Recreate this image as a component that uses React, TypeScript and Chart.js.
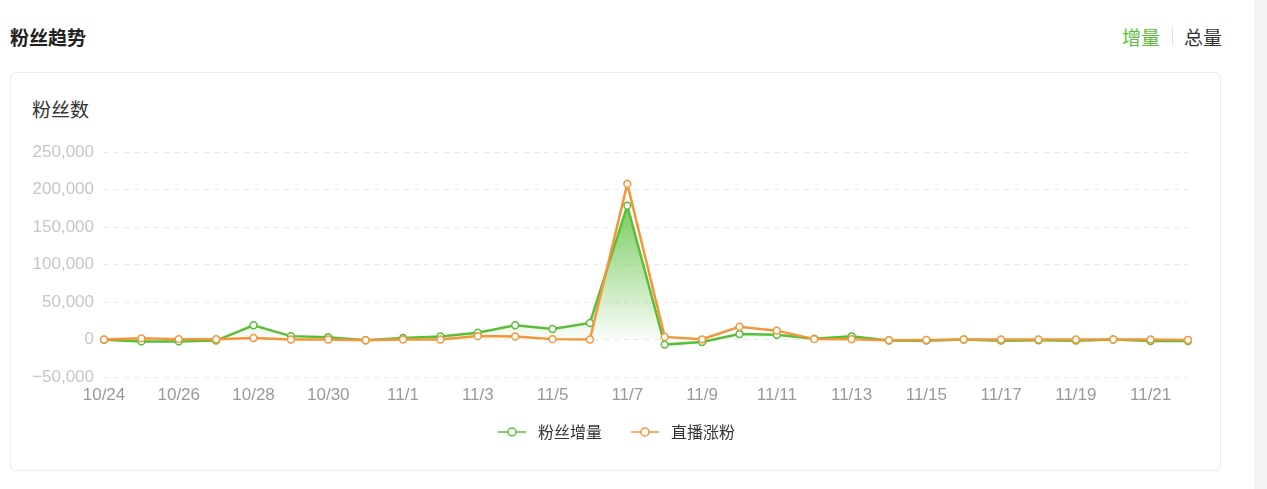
import React, { useEffect, useRef } from "react";
import { Chart, registerables } from "chart.js";

Chart.register(...registerables);

const categories = [
  "10/24", "10/25", "10/26", "10/27", "10/28", "10/29", "10/30", "10/31",
  "11/1", "11/2", "11/3", "11/4", "11/5", "11/6", "11/7", "11/8", "11/9", "11/10",
  "11/11", "11/12", "11/13", "11/14", "11/15", "11/16", "11/17", "11/18", "11/19",
  "11/20", "11/21", "11/22",
];

const fanGrowth = [
  -500, -2500, -2500, -1500, 19000, 4500, 3000, -1000,
  2000, 4000, 9000, 19000, 14000, 22000, 178500, -6800, -3300, 7300,
  6200, 1000, 4300, -1300, -1500, 0, -1500, -1000, -1500,
  0, -2000, -2000,
];

const liveGrowth = [
  0, 1500, 500, 500, 2000, 0, 0, -1000,
  0, 0, 4500, 4000, 500, 0, 207500, 3500, 300, 17000,
  11800, 500, 400, -1000, -500, 0, 0, 0, 0,
  0, 0, -500,
];

const seriesNames = ["粉丝增量", "直播涨粉"];
const yMin = -50000;
const yMax = 250000;
const yStep = 50000;

const GREEN = "#58bf36";
const ORANGE = "#f3963b";
const TICK_FONT = "'Liberation Sans', 'Noto Sans CJK SC', sans-serif";
const CJK_FONT = "'Noto Sans CJK SC', 'Liberation Sans', sans-serif";

function legendIcon(color: string) {
  const c = document.createElement("canvas");
  c.width = 37;
  c.height = 12;
  const ctx = c.getContext("2d")!;
  ctx.strokeStyle = color;
  ctx.lineWidth = 1.5;
  ctx.beginPath();
  ctx.moveTo(5, 6);
  ctx.lineTo(33, 6);
  ctx.stroke();
  ctx.beginPath();
  ctx.arc(19, 6, 4, 0, Math.PI * 2);
  ctx.fillStyle = "#fff";
  ctx.fill();
  ctx.stroke();
  return c;
}

function formatTick(v: number) {
  const s = Math.abs(v).toLocaleString("en-US");
  return v < 0 ? "\u2212" + s : s;
}

const legendShift = {
  id: "legendShift",
  afterLayout(chart: any) {
    const l = chart.legend;
    if (l) {
      l.left += 10;
      l.right += 10;
    }
  },
};

function FanChart() {
  const ref = useRef<HTMLCanvasElement | null>(null);
  useEffect(() => {
    if (!ref.current) return;
    const icons = [legendIcon(GREEN), legendIcon(ORANGE)];
    const peak = Math.max(...fanGrowth);
    const chart = new Chart(ref.current, {
      type: "line",
      data: {
        labels: categories,
        datasets: [
          {
            label: seriesNames[0],
            data: fanGrowth,
            borderColor: GREEN,
            borderWidth: 2.5,
            pointRadius: 3.4,
            pointBorderWidth: 1.5,
            pointBackgroundColor: "#fff",
            pointBorderColor: GREEN,
            tension: 0,
            fill: "origin",
            order: 2,
            backgroundColor: (ctx: any) => {
              const chart = ctx.chart;
              if (!chart.chartArea || !chart.scales.y) return "rgba(88,191,54,0.2)";
              const y = chart.scales.y;
              const top = y.getPixelForValue(peak);
              const zero = y.getPixelForValue(0);
              const g = chart.ctx.createLinearGradient(0, top, 0, zero);
              g.addColorStop(0, "rgba(88,191,54,0.8)");
              g.addColorStop(1, "rgba(88,191,54,0.03)");
              return g;
            },
          },
          {
            label: seriesNames[1],
            data: liveGrowth,
            borderColor: ORANGE,
            borderWidth: 2.5,
            pointRadius: 3.4,
            pointBorderWidth: 1.5,
            pointBackgroundColor: "#fff",
            pointBorderColor: ORANGE,
            tension: 0,
            fill: false,
            order: 1,
          },
        ],
      },
      options: {
        responsive: false,
        animation: false,
        layout: { padding: { top: 22, right: 22, left: 0, bottom: 0 } },
        plugins: {
          tooltip: { enabled: false },
          legend: {
            position: "bottom",
            labels: {
              usePointStyle: true,
              pointStyleWidth: 37,
              padding: 24,
              color: "#333",
              font: { size: 16, family: CJK_FONT },
              generateLabels: (chart: any) =>
                chart.data.datasets.map((ds: any, i: number) => ({
                  text: ds.label,
                  pointStyle: icons[i],
                  fillStyle: "#fff",
                  strokeStyle: ds.borderColor,
                  lineWidth: 0,
                  hidden: false,
                  datasetIndex: i,
                  fontColor: "#333",
                })),
            },
          },
        },
        scales: {
          x: {
            offset: false,
            afterFit: (scale: any) => {
              scale.height = 23;
            },
            grid: { display: false, drawTicks: false },
            border: { display: false },
            ticks: {
              autoSkip: false,
              maxRotation: 0,
              padding: 10,
              color: "#999",
              font: { size: 17, family: TICK_FONT, lineHeight: 1 },
              callback: (_v: any, i: number) => (i % 2 === 0 ? categories[i] : ""),
            },
          },
          y: {
            min: yMin,
            max: yMax,
            afterFit: (scale: any) => {
              scale.width = 84;
            },
            grid: { color: "#ebebeb", drawTicks: false, lineWidth: 1 },
            border: { display: false, dash: [5, 5] },
            ticks: {
              stepSize: yStep,
              padding: 10,
              color: "#c6c6c6",
              font: { size: 17, family: TICK_FONT },
              callback: (v: any) => formatTick(Number(v)),
            },
          },
        },
      },
      plugins: [legendShift],
    } as any);
    return () => chart.destroy();
  }, []);
  return (
    <canvas
      ref={ref}
      width={1190}
      height={320}
      style={{ position: "absolute", left: 20, top: 130, width: 1190, height: 320 }}
    />
  );
}

export default function App() {
  return (
    <div
      style={{
        position: "fixed",
        left: 0,
        top: 0,
        width: 1267,
        height: 489,
        background: "#fff",
        overflow: "hidden",
        fontFamily: CJK_FONT,
      }}
    >
      <div
        style={{
          position: "absolute",
          left: 10,
          top: 27,
          fontSize: 19,
          lineHeight: "19px",
          fontWeight: 700,
          color: "#222",
        }}
      >
        粉丝趋势
      </div>
      <div
        style={{
          position: "absolute",
          left: 1122,
          top: 27,
          fontSize: 19,
          lineHeight: "19px",
          color: GREEN,
        }}
      >
        增量
      </div>
      <div
        style={{
          position: "absolute",
          left: 1172,
          top: 27,
          width: 1,
          height: 19,
          background: "#e2e2e2",
        }}
      />
      <div
        style={{
          position: "absolute",
          left: 1184,
          top: 27,
          fontSize: 19,
          lineHeight: "19px",
          color: "#333",
        }}
      >
        总量
      </div>
      <div
        style={{
          position: "absolute",
          left: 10,
          top: 72,
          width: 1211,
          height: 399,
          boxSizing: "border-box",
          border: "1px solid #ebebeb",
          borderRadius: 6,
        }}
      />
      <div
        style={{
          position: "absolute",
          left: 32,
          top: 99,
          fontSize: 19,
          lineHeight: "19px",
          color: "#333",
        }}
      >
        粉丝数
      </div>
      <FanChart />
      <div
        style={{
          position: "absolute",
          left: 1254,
          top: 0,
          width: 13,
          height: 489,
          background: "#f3f3f3",
        }}
      />
    </div>
  );
}
